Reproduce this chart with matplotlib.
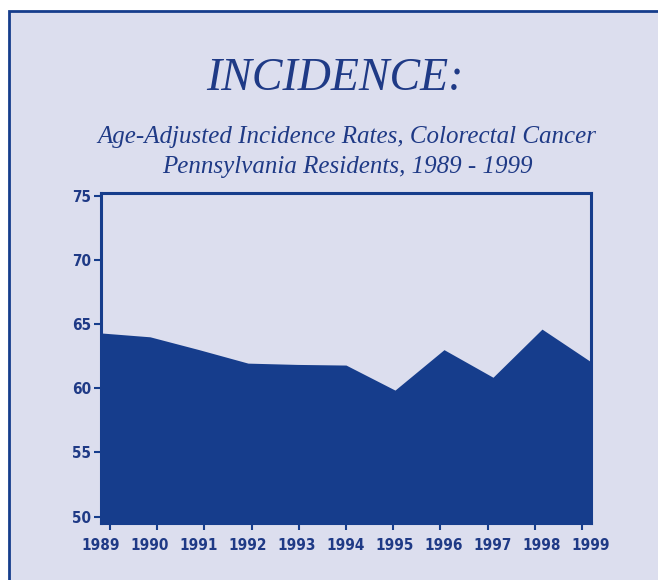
import numpy as np
import matplotlib.pyplot as plt
from matplotlib.patches import Rectangle

# age-adjusted colorectal cancer incidence, PA residents
years = [1989, 1990, 1991, 1992, 1993, 1994, 1995, 1996, 1997, 1998, 1999]
rates = [64.3, 64.0, 63.0, 61.95, 61.85, 61.8, 59.85, 63.0, 60.85, 64.6, 62.05]
yticks = [50, 55, 60, 65, 70, 75]

bg = '#DCDEEE'
navy = '#163D8C'
txt = '#1F3A86'

W, H = 658, 580
fig = plt.figure(figsize=(W / 100, H / 100), dpi=100, facecolor='white')

# panel with border along top and left
fig.patches.append(Rectangle((8.7 / W, -0.05), 1.2, (H - 11.3) / H + 0.05,
                             transform=fig.transFigure, facecolor=bg,
                             edgecolor=navy, linewidth=2.0, zorder=-1))

serif = ['Liberation Serif', 'DejaVu Serif']
fig.text(335 / W, 1 - 90 / H, 'INCIDENCE:', ha='center', va='baseline',
         fontsize=33, style='italic', family=serif, color=txt)
fig.text(347 / W, 1 - 143 / H, 'Age-Adjusted Incidence Rates, Colorectal Cancer',
         ha='center', va='baseline', fontsize=18, style='italic',
         family=serif, color=txt)
fig.text(347 / W, 1 - 173 / H, 'Pennsylvania Residents, 1989 - 1999',
         ha='center', va='baseline', fontsize=18, style='italic',
         family=serif, color=txt)

ax = fig.add_axes([101 / W, 1 - 523 / H, 490 / W, 330 / H])
ax.set_facecolor(bg)
ax.fill_between(years, rates, 49.5, color=navy, linewidth=0, zorder=2)
ax.set_xlim(years[0], years[-1])
ax.set_ylim(49.5, 75.2)

narrow = ['Liberation Sans Narrow', 'DejaVu Sans Condensed', 'DejaVu Sans']
tick_font = dict(family=narrow, fontweight='bold', fontstretch='condensed',
                 fontsize=11, color=txt)
ax.set_yticks(yticks)
ax.set_yticklabels([str(v) for v in yticks], **tick_font)
ax.tick_params(axis='y', length=5, width=1.5, color=navy, pad=2)

ax.set_xticks(years)
ax.set_xticklabels([str(y) for y in years], **tick_font)
ax.tick_params(axis='x', length=0, pad=11)

for s in ax.spines.values():
    s.set_color(navy)
    s.set_linewidth(2.2)
    s.set_zorder(3)

# tick marks on their own slightly inset scale
ax2 = ax.twiny()
ax2.set_xlim(1988.81, 1999.19)
ax2.xaxis.set_ticks_position('bottom')
ax2.set_xticks(years)
ax2.set_xticklabels([])
ax2.tick_params(axis='x', length=5, width=1.5, color=navy)
for s in ax2.spines.values():
    s.set_visible(False)

fig.savefig('out.png', dpi=100, facecolor='white')
